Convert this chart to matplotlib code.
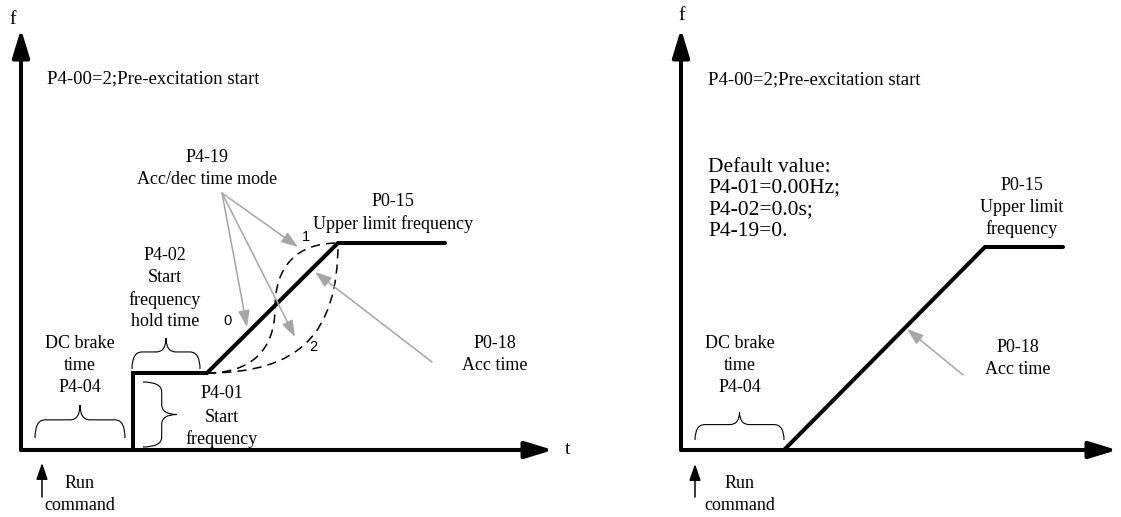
import matplotlib.pyplot as plt
from matplotlib.path import Path
from matplotlib.patches import PathPatch

# Canvas in pixel units (y grows downward)
W, H = 1121, 517
SERIF = 'Liberation Serif'
SANS = 'Liberation Sans'
GREY = '#a6a6a6'
AXIS_LW = 2.9

# ---------------- left diagram ----------------
L_ORIGIN = (21, 450)
L_X_TIP = 553
L_Y_TIP = 29
L_PROFILE_T = [133, 133, 207, 338, 445]
L_PROFILE_F = [450, 373, 373, 243, 243]
# acc/dec curves as cubic bezier control points
MODE1_T = [207, 251, 275, 275, 275, 297, 338]
MODE1_F = [373, 373, 350, 308, 266, 243, 243]
MODE2_T = [207, 299, 338, 338]
MODE2_F = [373, 373, 334, 243]
# grey pointers: (tail, tip)
L_POINTERS = [((222, 193), (247, 327)),
              ((222, 193), (295, 337)),
              ((222, 193), (298, 247)),
              ((432, 362), (315, 272))]
L_BRACES = [(35, 125, 438, 405, 'h'),
            (132, 200, 369, 338, 'h'),
            (382, 447, 143, 177, 'v')]
L_RUN = (42, 497, 463)

# ---------------- right diagram ----------------
R_ORIGIN = (681, 450)
R_X_TIP = 1117
R_Y_TIP = 29
R_PROFILE_T = [784, 985, 1063]
R_PROFILE_F = [450, 247, 247]
R_POINTERS = [((963, 375), (907, 329))]
R_BRACES = [(695, 784, 440, 412, 'h')]
R_RUN = (695, 497, 464)

# text: (x, y, string, size, ha, family)
TEXTS = [
    (13, 19, 'f', 14, 'center', SERIF),
    (568, 449, 't', 14, 'center', SERIF),
    (47, 79, 'P4-00=2;Pre-excitation start', 13.5, 'left', SERIF),
    (207, 158, 'P4-19', 13, 'center', SERIF),
    (207, 180, 'Acc/dec time mode', 13, 'center', SERIF),
    (393, 201, 'P0-15', 13, 'center', SERIF),
    (393, 224, 'Upper limit frequency', 13, 'center', SERIF),
    (165, 256, 'P4-02', 13, 'center', SERIF),
    (165, 278, 'Start', 13, 'center', SERIF),
    (165, 300, 'frequency', 13, 'center', SERIF),
    (165, 322, 'hold time', 13, 'center', SERIF),
    (80, 344, 'DC brake', 13, 'center', SERIF),
    (80, 366, 'time', 13, 'center', SERIF),
    (80, 388, 'P4-04', 13, 'center', SERIF),
    (222, 394, 'P4-01', 13, 'center', SERIF),
    (222, 417, 'Start', 13, 'center', SERIF),
    (222, 439, 'frequency', 13, 'center', SERIF),
    (495, 344, 'P0-18', 13, 'center', SERIF),
    (495, 366, 'Acc time', 13, 'center', SERIF),
    (80, 483, 'Run', 13, 'center', SERIF),
    (80, 505, 'command', 13, 'center', SERIF),
    (228, 321, '0', 10.5, 'center', SANS),
    (306, 237, '1', 10.5, 'center', SANS),
    (313, 347, '2', 10.5, 'center', SANS),
    # right diagram
    (682, 15, 'f', 14, 'center', SERIF),
    (708, 80, 'P4-00=2;Pre-excitation start', 13.5, 'left', SERIF),
    (708, 167, 'Default value:', 15.5, 'left', SERIF),
    (708, 188, 'P4-01=0.00Hz;', 15.5, 'left', SERIF),
    (708, 210, 'P4-02=0.0s;', 15.5, 'left', SERIF),
    (708, 231, 'P4-19=0.', 15.5, 'left', SERIF),
    (1022, 185, 'P0-15', 13, 'center', SERIF),
    (1022, 207, 'Upper limit', 13, 'center', SERIF),
    (1022, 229, 'frequency', 13, 'center', SERIF),
    (740, 343, 'DC brake', 13, 'center', SERIF),
    (740, 366, 'time', 13, 'center', SERIF),
    (740, 388, 'P4-04', 13, 'center', SERIF),
    (1018, 347, 'P0-18', 13, 'center', SERIF),
    (1018, 370, 'Acc time', 13, 'center', SERIF),
    (740, 483, 'Run', 13, 'center', SERIF),
    (740, 505, 'command', 13, 'center', SERIF),
]


def axis_arrow(ax, start, tip):
    ax.annotate('', xy=tip, xytext=start,
                arrowprops=dict(arrowstyle='-|>,head_length=0.85,head_width=0.26',
                                mutation_scale=20, lw=AXIS_LW, color='black',
                                shrinkA=0, shrinkB=0))


def pointer(ax, tail, tip, color=GREY, lw=1.1, scale=10):
    ax.annotate('', xy=tip, xytext=tail,
                arrowprops=dict(arrowstyle='-|>,head_length=1.0,head_width=0.35',
                                mutation_scale=scale, lw=lw, color=color,
                                shrinkA=0, shrinkB=0))


def brace(ax, a0, a1, base, tip, orient):
    # curly brace between a0 and a1, ends at 'base', pointing to 'tip'
    mid = base + 0.55 * (tip - base)
    c = (a0 + a1) / 2
    q = min(10, (a1 - a0) / 6)
    pts = [(a0, base), (a0, mid), (a0 + q, mid),
           (c - q, mid),
           (c, mid), (c, tip),
           (c, mid), (c + q, mid),
           (a1 - q, mid),
           (a1, mid), (a1, base)]
    codes = [Path.MOVETO, Path.CURVE3, Path.CURVE3, Path.LINETO,
             Path.CURVE3, Path.CURVE3, Path.CURVE3, Path.CURVE3,
             Path.LINETO, Path.CURVE3, Path.CURVE3]
    if orient == 'v':
        pts = [(p[1], p[0]) for p in pts]
    ax.add_patch(PathPatch(Path(pts, codes), fill=False, lw=0.8, ec='black'))


def bezier(ax, ts, fs):
    codes = [Path.MOVETO] + [Path.CURVE4] * (len(ts) - 1)
    ax.add_patch(PathPatch(Path(list(zip(ts, fs)), codes), fill=False,
                           lw=1.1, ec='black', ls=(0, (6, 4))))


fig = plt.figure(figsize=(W / 100, H / 100), dpi=100)
ax = fig.add_axes([0, 0, 1, 1])
ax.set_xlim(0, W)
ax.set_ylim(H, 0)
ax.axis('off')

# left
bezier(ax, MODE1_T, MODE1_F)
bezier(ax, MODE2_T, MODE2_F)
ax.plot(L_PROFILE_T, L_PROFILE_F, color='black', lw=AXIS_LW, solid_joinstyle='miter',
        solid_capstyle='round')
axis_arrow(ax, L_ORIGIN, (L_X_TIP, L_ORIGIN[1]))
axis_arrow(ax, L_ORIGIN, (L_ORIGIN[0], L_Y_TIP))
for tail, tip in L_POINTERS:
    pointer(ax, tail, tip)
for b in L_BRACES:
    brace(ax, *b)
pointer(ax, (L_RUN[0], L_RUN[1]), (L_RUN[0], L_RUN[2]), color='black', lw=1.1, scale=10)

# right
ax.plot(R_PROFILE_T, R_PROFILE_F, color='black', lw=AXIS_LW, solid_joinstyle='miter',
        solid_capstyle='round')
axis_arrow(ax, R_ORIGIN, (R_X_TIP, R_ORIGIN[1]))
axis_arrow(ax, R_ORIGIN, (R_ORIGIN[0], R_Y_TIP))
for tail, tip in R_POINTERS:
    pointer(ax, tail, tip)
for b in R_BRACES:
    brace(ax, *b)
pointer(ax, (R_RUN[0], R_RUN[1]), (R_RUN[0], R_RUN[2]), color='black', lw=1.1, scale=10)

for x, y, s, size, ha, fam in TEXTS:
    ax.text(x, y, s, fontsize=size, ha=ha, va='center', family=fam)

fig.savefig('out.png', dpi=100)
